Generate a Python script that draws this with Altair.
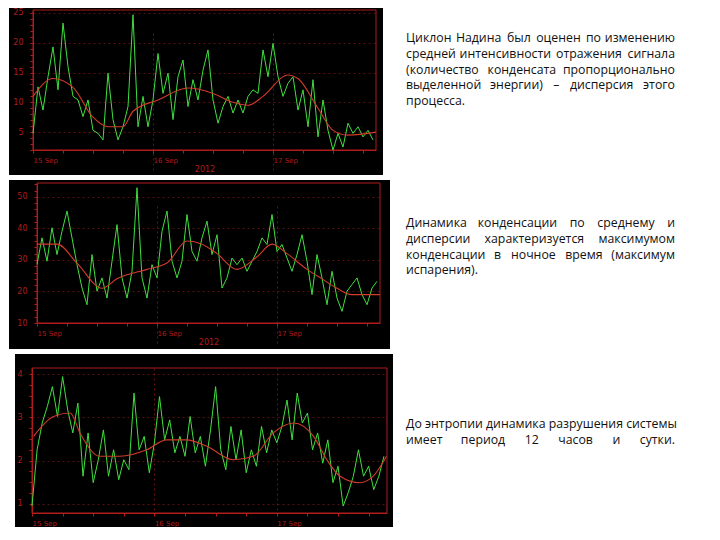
import altair as alt
import pandas as pd

RED_AX = "#b01c1c"
RED_LINE = "#d23a2a"
GREEN = "#3fe03f"

# ---------------- data ----------------
day_labels = ["15 Sep", "16 Sep", "17 Sep"]
axis_title = "2012"

p1_green = [4.8, 12.6, 8.7, 14.3, 19.3, 12.1, 23.3, 16.0, 11.0, 10.4, 7.6, 10.4, 5.3, 4.8,
            3.7, 14.9, 7.1, 3.7, 5.9, 9.3, 24.7, 5.9, 11.0, 5.9, 10.4, 18.2, 11.5, 14.9,
            7.1, 14.3, 17.1, 9.3, 13.8, 10.4, 15.4, 18.8, 10.4, 6.5, 9.3, 11.0, 8.2, 10.4,
            8.2, 11.0, 12.1, 11.5, 18.8, 14.3, 19.9, 14.3, 11.0, 13.2, 14.3, 8.7, 12.1, 5.9,
            13.8, 4.2, 10.4, 5.3, 2.0, 4.8, 2.5, 6.5, 4.8, 5.9, 4.2, 5.3, 3.7]
p1_red_h = [0, 4, 8, 12, 15, 18, 20, 25, 31, 36, 40, 43, 46, 51, 53, 57, 60, 63, 68.6]
p1_red_v = [11.0, 14.0, 12.5, 7.5, 5.9, 5.9, 8.5, 10.4, 12.4, 11.5, 10.0, 9.5, 11.0, 14.6,
            14.0, 9.0, 5.3, 4.5, 5.0]

p2_green = [28.6, 37.0, 29.6, 40.2, 31.7, 39.1, 45.5, 37.0, 28.5, 21.1, 15.8, 31.7, 20.1, 24.3,
            17.9, 29.6, 41.2, 24.3, 17.9, 26.4, 52.9, 24.3, 17.9, 28.5, 24.3, 39.1, 45.5, 29.6,
            24.3, 29.6, 44.4, 32.7, 29.6, 37.0, 42.3, 31.7, 38.0, 21.1, 24.3, 30.6, 28.5, 30.6,
            26.4, 29.6, 32.7, 37.0, 34.9, 44.4, 32.7, 34.9, 30.6, 26.4, 31.7, 38.0, 29.6, 19.0,
            31.7, 24.3, 15.8, 26.4, 17.9, 13.7, 20.1, 22.2, 24.3, 19.0, 15.8, 21.1, 23.2]
p2_red_h = [0, 4, 8, 13, 16, 22, 26, 30, 33, 36, 40, 44, 47, 50, 54, 57, 60, 63, 68.6]
p2_red_v = [35, 35, 29, 21, 24, 27, 29, 36, 35, 32, 27, 31, 35, 32, 27, 24, 21, 19, 19]

p3_green = [0.95, 2.25, 2.87, 3.25, 3.71, 3.02, 3.94, 3.17, 2.64, 3.33, 1.64, 2.64, 1.49, 2.02,
            2.71, 1.64, 2.25, 1.56, 2.02, 1.79, 3.56, 2.25, 2.56, 1.72, 2.41, 3.48, 2.48, 2.94,
            2.18, 2.56, 2.10, 3.02, 2.18, 2.56, 1.87, 2.71, 3.71, 2.25, 1.79, 2.79, 2.02, 2.71,
            1.72, 2.25, 1.87, 2.79, 2.18, 2.71, 2.41, 2.79, 3.40, 2.48, 3.56, 2.87, 3.10, 2.25,
            2.64, 1.94, 2.48, 1.49, 1.87, 0.95, 1.26, 1.64, 2.25, 1.64, 1.87, 1.33, 1.64, 2.10]
p3_red_h = [0.3, 4.2, 7.5, 9.4, 13.3, 17.3, 22.5, 26.4, 30.3, 34.3, 39.5, 43.4, 47.3, 51.3,
            55.2, 57.8, 60.4, 64.3, 66.9, 69.5]
p3_red_v = [2.56, 3.02, 3.10, 2.64, 2.10, 2.10, 2.25, 2.48, 2.48, 2.33, 2.02, 2.10, 2.64, 2.87,
            2.56, 2.02, 1.64, 1.49, 1.64, 2.10]

text1 = ["Циклон Надина был оценен по изменению",
         "средней интенсивности отражения сигнала",
         "(количество конденсата пропорционально",
         "выделенной энергии) – дисперсия этого",
         "процесса."]
text2 = ["Динамика конденсации по среднему и",
         "дисперсии характеризуется максимумом",
         "конденсации в ночное время (максимум",
         "испарения)."]
text3 = ["До энтропии динамика разрушения системы",
         "имеет период 12 часов и сутки."]

FS = 12.3
LH = 15.8

EM = {"а": .556, "б": .6, "в": .58, "г": .46, "д": .6, "е": .56, "ж": .85, "з": .5, "и": .63,
      "й": .63, "к": .55, "л": .6, "м": .74, "н": .63, "о": .6, "п": .63, "р": .6, "с": .48,
      "т": .47, "у": .5, "ф": .78, "х": .52, "ц": .64, "ч": .6, "ш": .88, "щ": .9, "ъ": .63,
      "ы": .8, "ь": .56, "э": .5, "ю": .84, "я": .58, ".": .27, ",": .27, "(": .3, ")": .3,
      "–": .5, "Ц": .72, "Н": .74, "Д": .68}


def est_width(word):
    return sum(EM.get(ch, 0.57) for ch in word) * FS * 0.965


def text_layers(lines, x0, x1, y0, justify_last):
    layers = []
    blank = pd.DataFrame({"a": [0]})
    for i, line in enumerate(lines):
        y = y0 + i * LH
        words = line.split()
        items = [(line, x0, "left")]
        is_last = i == len(lines) - 1
        if (not is_last or justify_last) and len(words) > 1:
            widths = [est_width(w) for w in words]
            natural = sum(widths) + 0.26 * FS * (len(words) - 1)
            if (x1 - x0) - natural >= 10:
                gap = (x1 - x0 - sum(widths)) / (len(words) - 1)
                items = []
                pos = x0
                for j, (w, wd) in enumerate(zip(words, widths)):
                    if j == 0:
                        items.append((w, x0, "left"))
                    elif j == len(words) - 1:
                        items.append((w, x1, "right"))
                    else:
                        items.append((w, pos + wd / 2, "center"))
                    pos += wd + gap
        for (w, x, al) in items:
            layers.append(alt.Chart(blank).mark_text(
                text=w, align=al, baseline="alphabetic", font="Open Sans",
                fontSize=FS, color="#111111").encode(x=alt.value(x), y=alt.value(y)))
    return layers


def panel(green, red_h, red_v, xmax, ydom, ymin_tick, ystep, ylabels, w, h, xr, yr,
          text, tx0, text_y, title, justify_last=False):
    gdf = pd.DataFrame({"h": list(range(len(green))), "v": green})
    rdf = pd.DataFrame({"h": red_h, "v": red_v})
    fdf = pd.DataFrame({"h": [0], "h2": [xmax], "v": [ydom[0]], "v2": [ydom[1]]})

    n = int(round((ydom[1] - ymin_tick) / ystep))
    yticks = [round(ymin_tick + i * ystep, 4) for i in range(n + 1)]
    ylab_str = "[" + ",".join(str(v) for v in ylabels) + "]"
    xticks = list(range(0, int(xmax) + 1, 6))
    xexpr = (f"datum.value == 0 ? '{day_labels[0]}' : datum.value == 24 ? '{day_labels[1]}' : "
             f"datum.value == 48 ? '{day_labels[2]}' : ''")

    axis_kw = dict(values=xticks, labelExpr=xexpr, offset=-(h - yr[0]),
                   domainColor=RED_AX, tickColor=RED_AX, tickSize=3,
                   labelColor=RED_AX, labelFontSize=7, labelAlign="left",
                   labelPadding=3, labelFont="DejaVu Sans",
                   grid=True, gridColor=RED_AX, gridDash=[2, 3],
                   gridOpacity={"condition": {"test": "datum.value % 24 == 0 && datum.value > 0",
                                              "value": 0.6}, "value": 0})
    if title:
        axis_kw.update(title=title, titleColor=RED_AX, titleFontSize=8,
                       titleFontWeight="normal", titlePadding=2, titleFont="DejaVu Sans")
    else:
        axis_kw.update(title=None)

    xenc = alt.X("h:Q",
                 scale=alt.Scale(domain=[0, xmax], range=xr, nice=False, zero=False),
                 axis=alt.Axis(**axis_kw))
    yenc = alt.Y("v:Q",
                 scale=alt.Scale(domain=ydom, range=yr, nice=False, zero=False),
                 axis=alt.Axis(values=yticks,
                               labelExpr=f"indexof({ylab_str}, datum.value) >= 0 ? format(datum.value, 'd') : ''",
                               offset=-xr[0], domainColor=RED_AX, tickColor=RED_AX, tickSize=3,
                               labelColor=RED_AX, labelFontSize=8, labelPadding=7,
                               labelFont="DejaVu Sans", title=None,
                               grid=True, gridColor=RED_AX, gridDash=[2, 3],
                               gridOpacity={"condition": {"test": f"indexof({ylab_str}, datum.value) >= 0",
                                                          "value": 0.5}, "value": 0}))

    frame = alt.Chart(fdf).mark_rect(fill=None, stroke=RED_AX, strokeWidth=1).encode(
        x=xenc, x2="h2:Q", y=yenc, y2="v2:Q")
    gline = alt.Chart(gdf).mark_line(color=GREEN, strokeWidth=1).encode(x=xenc, y=yenc)
    rline = alt.Chart(rdf).mark_line(color=RED_LINE, strokeWidth=1.1,
                                     interpolate="monotone").encode(x=xenc, y=yenc)
    txts = text_layers(text, tx0, tx0 + 269, text_y, justify_last)
    return alt.layer(frame, gline, rline, *txts).properties(
        width=w, height=h, view=alt.ViewBackground(fill="black", strokeWidth=0))


p1 = panel(p1_green, p1_red_h, p1_red_v, 68.6, [2.0, 25.5], 2, 1, [5, 10, 15, 20, 25],
           374, 167, [24, 367], [142, 2], text1, 397, 34, axis_title)
p2 = panel(p2_green, p2_red_h, p2_red_v, 68.6, [10.0, 54.4], 10, 2, [10, 20, 30, 40, 50],
           381, 169, [28, 371], [143, 3], text2, 397, 47, axis_title)
p3 = panel(p3_green, p3_red_h, p3_red_v, 69.6, [0.79, 4.14], 1, 0.25, [1, 2, 3, 4],
           378, 173, [17, 372], [159, 14], text3, 391, 74, None, justify_last=True)

spacer = alt.Chart(pd.DataFrame({"a": [0]})).mark_point(opacity=0, size=4).encode(
    x=alt.value(3), y=alt.value(80)).properties(
    width=6, height=173, view=alt.ViewBackground(fill="white", strokeWidth=0))

row3 = alt.hconcat(spacer, p3, spacing=0)

chart = alt.vconcat(p1, p2, row3, spacing=5).properties(
    padding={"left": 1, "top": 0, "right": 0, "bottom": 0}, background="white")

chart.save("out.html", embed_options={"renderer": "svg", "actions": False})
